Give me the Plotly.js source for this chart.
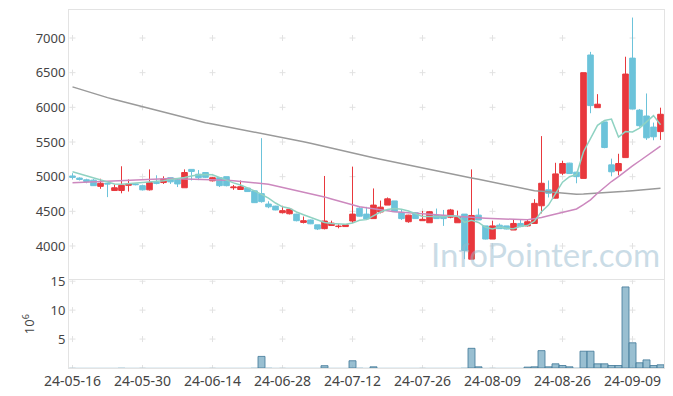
<!DOCTYPE html>
<html><head><meta charset="utf-8">
<script src="https://cdn.plot.ly/plotly-3.0.1.min.js"></script>
<style>html,body{margin:0;padding:0;background:#fff;}#chart{width:673px;height:396px;}</style>
</head><body><div id="chart"></div>
<script>
const dates = ["24-05-16","24-05-17","24-05-20","24-05-21","24-05-22","24-05-23","24-05-24","24-05-27","24-05-28","24-05-29",
"24-05-30","24-05-31","24-06-03","24-06-04","24-06-05","24-06-07","24-06-10","24-06-11","24-06-12","24-06-13",
"24-06-14","24-06-17","24-06-18","24-06-19","24-06-20","24-06-21","24-06-24","24-06-25","24-06-26","24-06-27",
"24-06-28","24-07-01","24-07-02","24-07-03","24-07-04","24-07-05","24-07-08","24-07-09","24-07-10","24-07-11",
"24-07-12","24-07-15","24-07-16","24-07-17","24-07-18","24-07-19","24-07-22","24-07-23","24-07-24","24-07-25",
"24-07-26","24-07-29","24-07-30","24-07-31","24-08-01","24-08-02","24-08-05","24-08-06","24-08-07","24-08-08",
"24-08-09","24-08-12","24-08-13","24-08-14","24-08-16","24-08-19","24-08-20","24-08-21","24-08-22","24-08-23",
"24-08-26","24-08-27","24-08-28","24-08-29","24-08-30","24-09-02","24-09-03","24-09-04","24-09-05","24-09-06",
"24-09-09","24-09-10","24-09-11","24-09-12","24-09-13"];

const openP = [5010,4980,4955,4950,4860,4905,4800,4800,4875,4895,
4870,4810,4920,4915,4985,4955,4840,5105,5035,5060,
4940,4985,5000,4840,4815,4835,4795,4755,4605,4575,
4480,4465,4460,4340,4375,4305,4250,4295,4280,4280,
4360,4545,4460,4395,4490,4590,4650,4485,4350,4480,
4365,4335,4440,4440,4415,4335,4460,3810,4445,4290,
4100,4300,4290,4230,4325,4290,4325,4580,4810,4690,
5050,5195,5065,4975,6755,5995,5790,5170,5085,5275,
6710,5960,5875,5715,5650];
const highP = [5050,4990,4970,4965,4970,4910,4885,5150,4960,4900,
4885,5105,5020,5005,4985,4965,5105,5105,5095,5065,
4995,4990,5000,4880,4945,4840,4800,5555,4645,4580,
4580,4540,4465,4425,4380,4305,5010,4365,4315,4310,
5145,4560,4565,4830,4655,4700,4650,4520,4450,4485,
4505,4505,4540,4520,4535,4510,4460,5105,4540,4290,
4365,4325,4290,4375,4375,4375,4675,5585,4945,5200,
5230,5200,5070,6500,6800,6190,5790,5260,5330,6730,
7295,5975,6200,5780,5995];
const lowP = [4960,4945,4905,4865,4825,4705,4795,4760,4785,4875,
4800,4800,4890,4895,4895,4850,4840,4945,4950,4980,
4930,4850,4860,4810,4810,4780,4620,4625,4545,4515,
4470,4455,4355,4325,4315,4230,4240,4290,4255,4275,
4330,4425,4380,4395,4470,4590,4490,4375,4335,4390,
4365,4335,4395,4290,4400,4335,3810,3810,4375,4095,
4100,4250,4240,4230,4270,4280,4325,4470,4700,4685,
5025,5045,4905,4975,5915,5995,5410,5005,5020,5275,
5975,5720,5530,5525,5530];
const closeP = [4990,4960,4930,4870,4905,4895,4840,4875,4895,4885,
4810,4915,4905,4965,4925,4895,5060,5075,4985,4990,
4985,4870,4870,4850,4855,4785,4625,4640,4565,4520,
4510,4530,4365,4365,4320,4245,4360,4330,4285,4305,
4460,4430,4390,4590,4560,4680,4495,4395,4445,4395,
4385,4495,4395,4395,4520,4415,3935,4440,4375,4100,
4290,4250,4245,4325,4280,4350,4615,4905,4760,5040,
5190,5045,5000,6500,6025,6045,5420,5070,5190,6480,
5975,5735,5560,5575,5900];
// volume in millions of shares
const volumeM = [0.05,0.04,0.05,0.04,0.05,0.06,0.05,0.08,0.05,0.04,
0.05,0.06,0.05,0.04,0.04,0.05,0.06,0.05,0.04,0.04,
0.04,0.05,0.04,0.04,0.05,0.06,0.08,2.0,0.08,0.05,
0.04,0.04,0.05,0.04,0.04,0.05,0.4,0.06,0.04,0.04,
1.25,0.08,0.06,0.2,0.06,0.05,0.06,0.05,0.04,0.04,
0.04,0.05,0.04,0.05,0.04,0.05,0.08,3.4,0.2,0.06,
0.05,0.04,0.04,0.05,0.05,0.15,0.2,3.0,0.2,0.72,
0.43,0.2,0.08,2.9,2.9,0.72,0.72,0.43,0.43,14.0,
4.35,0.9,1.4,0.43,0.55];
const ma5 = [5070,5040,5010,4985,4950,4915,4893,4890,4898,4905,
4912,4918,4925,4940,4958,4970,4988,5010,5028,5032,
5028,4990,4945,4910,4880,4840,4795,4745,4690,4620,
4565,4545,4490,4450,4415,4370,4340,4325,4315,4312,
4330,4370,4380,4440,4490,4525,4540,4530,4505,4465,
4425,4425,4425,4420,4435,4430,4340,4370,4340,4270,
4245,4275,4255,4250,4285,4295,4360,4495,4590,4760,
4920,5000,5030,5360,5560,5740,5810,5830,5570,5650,
5645,5700,5790,5880,5750];
const ma20 = [4913,4917,4921,4926,4930,4934,4938,4943,4947,4953,
4958,4964,4969,4975,4973,4970,4968,4965,4962,4959,
4955,4952,4947,4942,4934,4925,4913,4902,4890,4868,
4845,4823,4800,4777,4754,4731,4708,4679,4650,4617,
4585,4567,4550,4535,4519,4507,4495,4486,4478,4470,
4463,4455,4448,4440,4433,4425,4419,4413,4407,4401,
4395,4392,4388,4385,4381,4378,4392,4410,4435,4460,
4485,4510,4534,4595,4665,4760,4850,4930,5000,5080,
5155,5226,5298,5370,5440];
const ma60 = [6295,6262,6230,6198,6167,6140,6114,6088,6061,6035,
6008,5982,5956,5930,5904,5877,5851,5825,5798,5779,
5759,5740,5720,5701,5682,5662,5643,5624,5604,5585,
5566,5546,5527,5504,5481,5457,5434,5411,5388,5365,
5341,5318,5295,5274,5252,5231,5209,5188,5160,5139,
5119,5099,5080,5060,5040,5020,5001,4981,4961,4940,
4920,4899,4879,4859,4838,4818,4797,4789,4780,4771,
4763,4755,4747,4751,4756,4760,4764,4772,4781,4789,
4798,4806,4815,4823,4832];
const priceTicks = [4000,4500,5000,5500,6000,6500,7000];
const volTicks = [5,10,15];
const volGridTicks = [0,5,10,15];

const tickIdx = [0,10,20,30,40,50,60,70,80];
const tickCats = tickIdx.map(i => dates[i]);

const RED = '#E8383D', TEAL = '#6CC3DA';
const font = 'Noto Sans, Open Sans, sans-serif';

// grid "+" marks at tick intersections, drawn below the data
const shapes = [];
const GRID = '#e2e2e2';
function cross(xa, ya, cat, v) {
  const idx = dates.indexOf(cat);
  shapes.push({type:'line', layer:'below', xref:xa, yref:ya, xsizemode:'pixel', xanchor:idx,
               x0:-3, x1:3, y0:v, y1:v, line:{color:GRID, width:1}});
  shapes.push({type:'line', layer:'below', xref:xa, yref:ya, ysizemode:'pixel', yanchor:v,
               x0:idx, x1:idx, y0:-3, y1:3, line:{color:GRID, width:1}});
}
tickCats.forEach(c => {
  priceTicks.forEach(v => cross('x', 'y', c, v));
  volGridTicks.forEach(v => cross('x2', 'y2', c, v));
});

const traces = [
  {type:'candlestick', x:dates, open:openP, high:highP, low:lowP, close:closeP, xaxis:'x', yaxis:'y',
   increasing:{line:{color:RED, width:1}, fillcolor:RED},
   decreasing:{line:{color:TEAL, width:1}, fillcolor:TEAL},
   whiskerwidth:0, hoverinfo:'skip'},
  {type:'scatter', mode:'lines', x:dates, y:ma60, xaxis:'x', yaxis:'y', line:{color:'#9a9a9a', width:1.5}, hoverinfo:'skip'},
  {type:'scatter', mode:'lines', x:dates, y:ma20, xaxis:'x', yaxis:'y', line:{color:'#cc88be', width:1.5}, hoverinfo:'skip'},
  {type:'scatter', mode:'lines', x:dates, y:ma5, xaxis:'x', yaxis:'y', line:{color:'#8fd2c2', width:1.5}, hoverinfo:'skip'},
  {type:'bar', x:dates, y:volumeM, xaxis:'x2', yaxis:'y2',
   marker:{color:'rgba(128,175,198,0.8)', line:{color:'rgba(70,125,155,0.85)', width:volumeM.map(v => v > 0.1 ? 1 : 0)}},
   hoverinfo:'skip'}
];

const axLine = '#e3e3e3';
const layout = {
  width:673, height:396,
  margin:{l:69, r:9, t:10, b:28},
  paper_bgcolor:'#fff', plot_bgcolor:'#fff',
  showlegend:false, bargap:0, boxgap:0.2, boxgroupgap:0,
  font:{family:font, color:'#444', size:13},
  shapes: shapes,
  xaxis:{type:'category', categoryorder:'array', categoryarray:dates, range:[-0.5,84.5], anchor:'y',
         showticklabels:false, showgrid:false, zeroline:false, showline:true, mirror:true, linecolor:axLine,
         ticks:'', rangeslider:{visible:false}},
  xaxis2:{type:'category', categoryorder:'array', categoryarray:dates, range:[-0.5,84.5], anchor:'y2', matches:'x',
          tickmode:'array', tickvals:tickCats, ticktext:tickCats, tickangle:0,
          tickfont:{family:font, size:14, color:'#444'},
          showgrid:false, zeroline:false, showline:true, mirror:true, linecolor:axLine, ticks:'',
          rangeslider:{visible:false}},
  yaxis:{domain:[0.25,1], range:[3531,7404], tickmode:'array', tickvals:priceTicks,
         tickfont:{family:font, size:13, color:'#444'},
         showgrid:false, zeroline:false, showline:true, mirror:true, linecolor:axLine, ticks:''},
  yaxis2:{domain:[0,0.245], range:[0,15.15], tickmode:'array', tickvals:volTicks,
          tickfont:{family:font, size:13, color:'#444'},
          title:{text:'10<sup>6</sup>', font:{family:font, size:13, color:'#444'}, standoff:12},
          showgrid:false, zeroline:false, showline:true, mirror:true, linecolor:axLine, ticks:''},
  annotations:[{text:'InfoPointer.com', xref:'paper', yref:'paper', x:0.80, y:0.318,
                xanchor:'center', yanchor:'middle', showarrow:false,
                font:{family:'Lato, Noto Sans, sans-serif', size:33, color:'rgba(150,185,205,0.5)'}}]
};

Plotly.newPlot('chart', traces, layout, {staticPlot:true, displayModeBar:false});
</script>
</body></html>
